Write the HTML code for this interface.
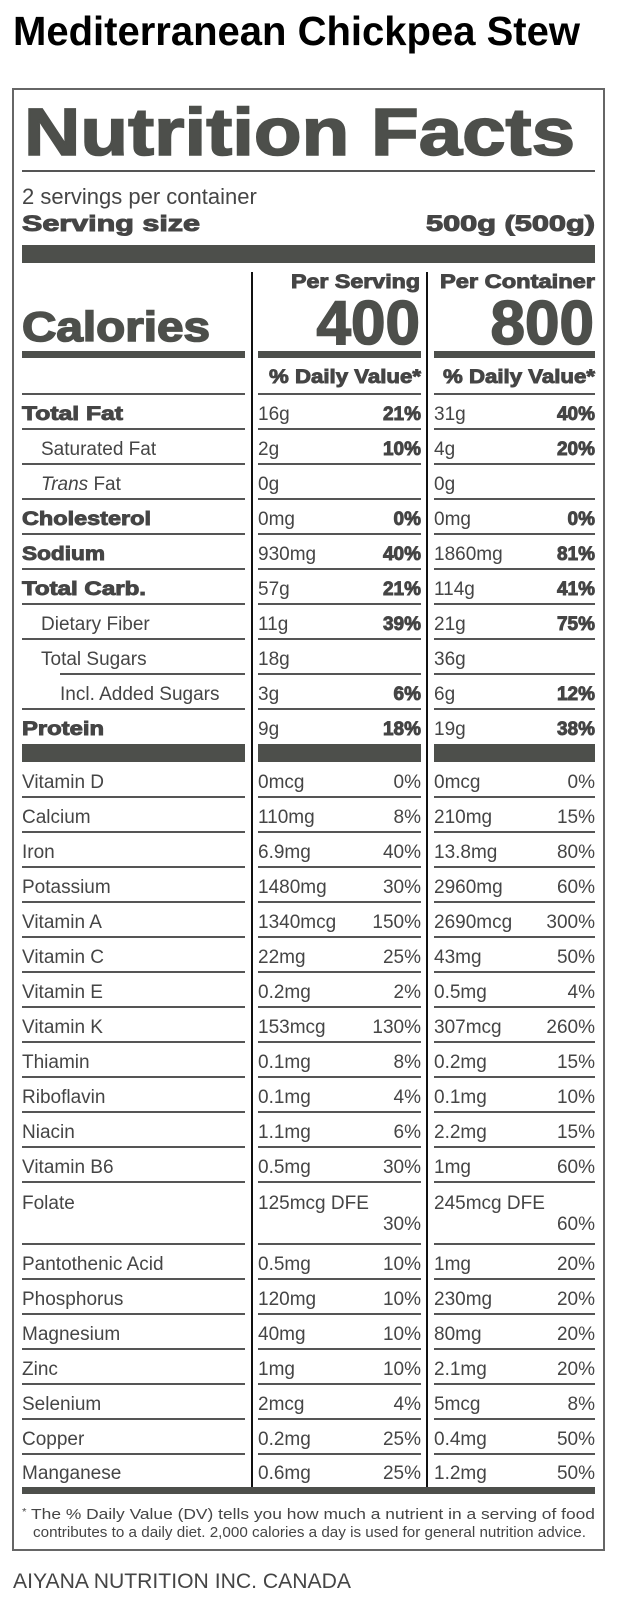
<!DOCTYPE html>
<html><head><meta charset="utf-8"><style>
html,body{margin:0;padding:0;background:#fff;}
svg{display:block;}
text{font-family:"Liberation Sans",Arial,sans-serif;fill:#454545;}
.b{font-weight:bold;}
.h{font-weight:bold;fill:#4d4f4b;stroke:#4d4f4b;stroke-width:1.6px;}
.r{font-size:19px;}
.rb{font-size:19px;font-weight:bold;stroke:#454545;stroke-width:0.9px;}
</style></head><body>
<svg width="617" height="1599" viewBox="0 0 617 1599" xmlns="http://www.w3.org/2000/svg">
<rect width="617" height="1599" fill="#fff"/>
<text x="13" y="45" font-size="41" font-weight="bold" style="fill:#000" textLength="567" lengthAdjust="spacingAndGlyphs">Mediterranean Chickpea Stew</text>
<rect x="13" y="89" width="591" height="1461" fill="none" stroke="#666" stroke-width="2"/>
<text x="24" y="155" font-size="67" class="h" textLength="551" lengthAdjust="spacingAndGlyphs">Nutrition Facts</text>
<rect x="22" y="170" width="573" height="2" fill="#555"/>
<text x="22" y="204" font-size="22">2 servings per container</text>
<text x="22" y="231" font-size="22" class="b" style="stroke:#454545;stroke-width:1px" textLength="178" lengthAdjust="spacingAndGlyphs">Serving size</text>
<text x="426" y="231" font-size="22" class="b" style="stroke:#454545;stroke-width:1px" textLength="169" lengthAdjust="spacingAndGlyphs">500g (500g)</text>
<rect x="22" y="245" width="573" height="18" fill="#4d4f4b"/>
<rect x="251" y="272" width="2" height="1215" fill="#111"/>
<rect x="426" y="272" width="2" height="1215" fill="#111"/>
<text x="291" y="288" class="rb" textLength="129" lengthAdjust="spacingAndGlyphs">Per Serving</text>
<text x="440" y="288" class="rb" textLength="155" lengthAdjust="spacingAndGlyphs">Per Container</text>
<text x="22" y="341" font-size="42" class="h" textLength="188" lengthAdjust="spacingAndGlyphs">Calories</text>
<text x="420" y="344" font-size="62" class="h" text-anchor="end">400</text>
<text x="594" y="344" font-size="62" class="h" text-anchor="end">800</text>
<rect x="22" y="351" width="223" height="7" fill="#4d4f4b"/>
<rect x="258" y="351" width="163" height="7" fill="#4d4f4b"/>
<rect x="434" y="351" width="161" height="7" fill="#4d4f4b"/>
<text x="269" y="383" class="rb" textLength="152" lengthAdjust="spacingAndGlyphs">% Daily Value*</text>
<text x="443" y="383" class="rb" textLength="152" lengthAdjust="spacingAndGlyphs">% Daily Value*</text>
<g fill="#555">
<rect x="22" y="393" width="223" height="2"/><rect x="258" y="393" width="163" height="2"/><rect x="434" y="393" width="161" height="2"/>
</g>
<rect x="22" y="744" width="223" height="18" fill="#4d4f4b"/>
<rect x="258" y="744" width="163" height="18" fill="#4d4f4b"/>
<rect x="434" y="744" width="161" height="18" fill="#4d4f4b"/>
<rect x="22" y="1487" width="573" height="7" fill="#4d4f4b"/>
<text x="22" y="1519" font-size="15" textLength="573" lengthAdjust="spacingAndGlyphs"><tspan font-size="10" dy="-4">*</tspan><tspan dy="4"> The % Daily Value (DV) tells you how much a nutrient in a serving of food</tspan></text>
<text x="33" y="1537" font-size="15" textLength="553" lengthAdjust="spacingAndGlyphs">contributes to a daily diet. 2,000 calories a day is used for general nutrition advice.</text>
<text x="13" y="1588" font-size="21" textLength="338" lengthAdjust="spacingAndGlyphs">AIYANA NUTRITION INC.  CANADA</text>
<g class="r">
<text x="22" y="420" class="rb" textLength="101" lengthAdjust="spacingAndGlyphs">Total Fat</text><text x="258" y="420">16g</text><text x="421" y="420" class="rb" text-anchor="end">21%</text><text x="434" y="420">31g</text><text x="595" y="420" class="rb" text-anchor="end">40%</text>
<text x="41" y="455">Saturated Fat</text><text x="258" y="455">2g</text><text x="421" y="455" class="rb" text-anchor="end">10%</text><text x="434" y="455">4g</text><text x="595" y="455" class="rb" text-anchor="end">20%</text>
<text x="41" y="490"><tspan font-style="italic">Trans</tspan> Fat</text><text x="258" y="490">0g</text><text x="434" y="490">0g</text>
<text x="22" y="525" class="rb" textLength="129" lengthAdjust="spacingAndGlyphs">Cholesterol</text><text x="258" y="525">0mg</text><text x="421" y="525" class="rb" text-anchor="end">0%</text><text x="434" y="525">0mg</text><text x="595" y="525" class="rb" text-anchor="end">0%</text>
<text x="22" y="560" class="rb" textLength="83" lengthAdjust="spacingAndGlyphs">Sodium</text><text x="258" y="560">930mg</text><text x="421" y="560" class="rb" text-anchor="end">40%</text><text x="434" y="560">1860mg</text><text x="595" y="560" class="rb" text-anchor="end">81%</text>
<text x="22" y="595" class="rb" textLength="124" lengthAdjust="spacingAndGlyphs">Total Carb.</text><text x="258" y="595">57g</text><text x="421" y="595" class="rb" text-anchor="end">21%</text><text x="434" y="595">114g</text><text x="595" y="595" class="rb" text-anchor="end">41%</text>
<text x="41" y="630">Dietary Fiber</text><text x="258" y="630">11g</text><text x="421" y="630" class="rb" text-anchor="end">39%</text><text x="434" y="630">21g</text><text x="595" y="630" class="rb" text-anchor="end">75%</text>
<text x="41" y="665">Total Sugars</text><text x="258" y="665">18g</text><text x="434" y="665">36g</text>
<text x="60" y="700">Incl. Added Sugars</text><text x="258" y="700">3g</text><text x="421" y="700" class="rb" text-anchor="end">6%</text><text x="434" y="700">6g</text><text x="595" y="700" class="rb" text-anchor="end">12%</text>
<text x="22" y="735" class="rb" textLength="82" lengthAdjust="spacingAndGlyphs">Protein</text><text x="258" y="735">9g</text><text x="421" y="735" class="rb" text-anchor="end">18%</text><text x="434" y="735">19g</text><text x="595" y="735" class="rb" text-anchor="end">38%</text>
</g>
<g fill="#555">
<rect x="22" y="428" width="223" height="2"/><rect x="258" y="428" width="163" height="2"/><rect x="434" y="428" width="161" height="2"/>
<rect x="22" y="463" width="223" height="2"/><rect x="258" y="463" width="163" height="2"/><rect x="434" y="463" width="161" height="2"/>
<rect x="22" y="498" width="223" height="2"/><rect x="258" y="498" width="163" height="2"/><rect x="434" y="498" width="161" height="2"/>
<rect x="22" y="533" width="223" height="2"/><rect x="258" y="533" width="163" height="2"/><rect x="434" y="533" width="161" height="2"/>
<rect x="22" y="568" width="223" height="2"/><rect x="258" y="568" width="163" height="2"/><rect x="434" y="568" width="161" height="2"/>
<rect x="22" y="603" width="223" height="2"/><rect x="258" y="603" width="163" height="2"/><rect x="434" y="603" width="161" height="2"/>
<rect x="22" y="638" width="223" height="2"/><rect x="258" y="638" width="163" height="2"/><rect x="434" y="638" width="161" height="2"/>
<rect x="60" y="673" width="185" height="2"/><rect x="258" y="673" width="163" height="2"/><rect x="434" y="673" width="161" height="2"/>
<rect x="22" y="708" width="223" height="2"/><rect x="258" y="708" width="163" height="2"/><rect x="434" y="708" width="161" height="2"/>
</g>
<g class="r">
<text x="22" y="788">Vitamin D</text><text x="258" y="788">0mcg</text><text x="421" y="788" text-anchor="end">0%</text><text x="434" y="788">0mcg</text><text x="595" y="788" text-anchor="end">0%</text>
<text x="22" y="823">Calcium</text><text x="258" y="823">110mg</text><text x="421" y="823" text-anchor="end">8%</text><text x="434" y="823">210mg</text><text x="595" y="823" text-anchor="end">15%</text>
<text x="22" y="858">Iron</text><text x="258" y="858">6.9mg</text><text x="421" y="858" text-anchor="end">40%</text><text x="434" y="858">13.8mg</text><text x="595" y="858" text-anchor="end">80%</text>
<text x="22" y="893">Potassium</text><text x="258" y="893">1480mg</text><text x="421" y="893" text-anchor="end">30%</text><text x="434" y="893">2960mg</text><text x="595" y="893" text-anchor="end">60%</text>
<text x="22" y="928">Vitamin A</text><text x="258" y="928">1340mcg</text><text x="421" y="928" text-anchor="end">150%</text><text x="434" y="928">2690mcg</text><text x="595" y="928" text-anchor="end">300%</text>
<text x="22" y="963">Vitamin C</text><text x="258" y="963">22mg</text><text x="421" y="963" text-anchor="end">25%</text><text x="434" y="963">43mg</text><text x="595" y="963" text-anchor="end">50%</text>
<text x="22" y="998">Vitamin E</text><text x="258" y="998">0.2mg</text><text x="421" y="998" text-anchor="end">2%</text><text x="434" y="998">0.5mg</text><text x="595" y="998" text-anchor="end">4%</text>
<text x="22" y="1033">Vitamin K</text><text x="258" y="1033">153mcg</text><text x="421" y="1033" text-anchor="end">130%</text><text x="434" y="1033">307mcg</text><text x="595" y="1033" text-anchor="end">260%</text>
<text x="22" y="1068">Thiamin</text><text x="258" y="1068">0.1mg</text><text x="421" y="1068" text-anchor="end">8%</text><text x="434" y="1068">0.2mg</text><text x="595" y="1068" text-anchor="end">15%</text>
<text x="22" y="1103">Riboflavin</text><text x="258" y="1103">0.1mg</text><text x="421" y="1103" text-anchor="end">4%</text><text x="434" y="1103">0.1mg</text><text x="595" y="1103" text-anchor="end">10%</text>
<text x="22" y="1138">Niacin</text><text x="258" y="1138">1.1mg</text><text x="421" y="1138" text-anchor="end">6%</text><text x="434" y="1138">2.2mg</text><text x="595" y="1138" text-anchor="end">15%</text>
<text x="22" y="1173">Vitamin B6</text><text x="258" y="1173">0.5mg</text><text x="421" y="1173" text-anchor="end">30%</text><text x="434" y="1173">1mg</text><text x="595" y="1173" text-anchor="end">60%</text>
<text x="22" y="1209">Folate</text><text x="258" y="1209">125mcg DFE</text><text x="421" y="1230" text-anchor="end">30%</text><text x="434" y="1209">245mcg DFE</text><text x="595" y="1230" text-anchor="end">60%</text>
<text x="22" y="1270">Pantothenic Acid</text><text x="258" y="1270">0.5mg</text><text x="421" y="1270" text-anchor="end">10%</text><text x="434" y="1270">1mg</text><text x="595" y="1270" text-anchor="end">20%</text>
<text x="22" y="1305">Phosphorus</text><text x="258" y="1305">120mg</text><text x="421" y="1305" text-anchor="end">10%</text><text x="434" y="1305">230mg</text><text x="595" y="1305" text-anchor="end">20%</text>
<text x="22" y="1340">Magnesium</text><text x="258" y="1340">40mg</text><text x="421" y="1340" text-anchor="end">10%</text><text x="434" y="1340">80mg</text><text x="595" y="1340" text-anchor="end">20%</text>
<text x="22" y="1375">Zinc</text><text x="258" y="1375">1mg</text><text x="421" y="1375" text-anchor="end">10%</text><text x="434" y="1375">2.1mg</text><text x="595" y="1375" text-anchor="end">20%</text>
<text x="22" y="1410">Selenium</text><text x="258" y="1410">2mcg</text><text x="421" y="1410" text-anchor="end">4%</text><text x="434" y="1410">5mcg</text><text x="595" y="1410" text-anchor="end">8%</text>
<text x="22" y="1445">Copper</text><text x="258" y="1445">0.2mg</text><text x="421" y="1445" text-anchor="end">25%</text><text x="434" y="1445">0.4mg</text><text x="595" y="1445" text-anchor="end">50%</text>
<text x="22" y="1479">Manganese</text><text x="258" y="1479">0.6mg</text><text x="421" y="1479" text-anchor="end">25%</text><text x="434" y="1479">1.2mg</text><text x="595" y="1479" text-anchor="end">50%</text>
</g>
<g fill="#555">
<rect x="22" y="796" width="223" height="2"/><rect x="258" y="796" width="163" height="2"/><rect x="434" y="796" width="161" height="2"/>
<rect x="22" y="831" width="223" height="2"/><rect x="258" y="831" width="163" height="2"/><rect x="434" y="831" width="161" height="2"/>
<rect x="22" y="866" width="223" height="2"/><rect x="258" y="866" width="163" height="2"/><rect x="434" y="866" width="161" height="2"/>
<rect x="22" y="901" width="223" height="2"/><rect x="258" y="901" width="163" height="2"/><rect x="434" y="901" width="161" height="2"/>
<rect x="22" y="936" width="223" height="2"/><rect x="258" y="936" width="163" height="2"/><rect x="434" y="936" width="161" height="2"/>
<rect x="22" y="971" width="223" height="2"/><rect x="258" y="971" width="163" height="2"/><rect x="434" y="971" width="161" height="2"/>
<rect x="22" y="1006" width="223" height="2"/><rect x="258" y="1006" width="163" height="2"/><rect x="434" y="1006" width="161" height="2"/>
<rect x="22" y="1041" width="223" height="2"/><rect x="258" y="1041" width="163" height="2"/><rect x="434" y="1041" width="161" height="2"/>
<rect x="22" y="1076" width="223" height="2"/><rect x="258" y="1076" width="163" height="2"/><rect x="434" y="1076" width="161" height="2"/>
<rect x="22" y="1111" width="223" height="2"/><rect x="258" y="1111" width="163" height="2"/><rect x="434" y="1111" width="161" height="2"/>
<rect x="22" y="1146" width="223" height="2"/><rect x="258" y="1146" width="163" height="2"/><rect x="434" y="1146" width="161" height="2"/>
<rect x="22" y="1181" width="223" height="2"/><rect x="258" y="1181" width="163" height="2"/><rect x="434" y="1181" width="161" height="2"/>
<rect x="22" y="1243" width="223" height="2"/><rect x="258" y="1243" width="163" height="2"/><rect x="434" y="1243" width="161" height="2"/>
<rect x="22" y="1278" width="223" height="2"/><rect x="258" y="1278" width="163" height="2"/><rect x="434" y="1278" width="161" height="2"/>
<rect x="22" y="1313" width="223" height="2"/><rect x="258" y="1313" width="163" height="2"/><rect x="434" y="1313" width="161" height="2"/>
<rect x="22" y="1348" width="223" height="2"/><rect x="258" y="1348" width="163" height="2"/><rect x="434" y="1348" width="161" height="2"/>
<rect x="22" y="1383" width="223" height="2"/><rect x="258" y="1383" width="163" height="2"/><rect x="434" y="1383" width="161" height="2"/>
<rect x="22" y="1418" width="223" height="2"/><rect x="258" y="1418" width="163" height="2"/><rect x="434" y="1418" width="161" height="2"/>
<rect x="22" y="1453" width="223" height="2"/><rect x="258" y="1453" width="163" height="2"/><rect x="434" y="1453" width="161" height="2"/>
</g>
</svg>
</body></html>
